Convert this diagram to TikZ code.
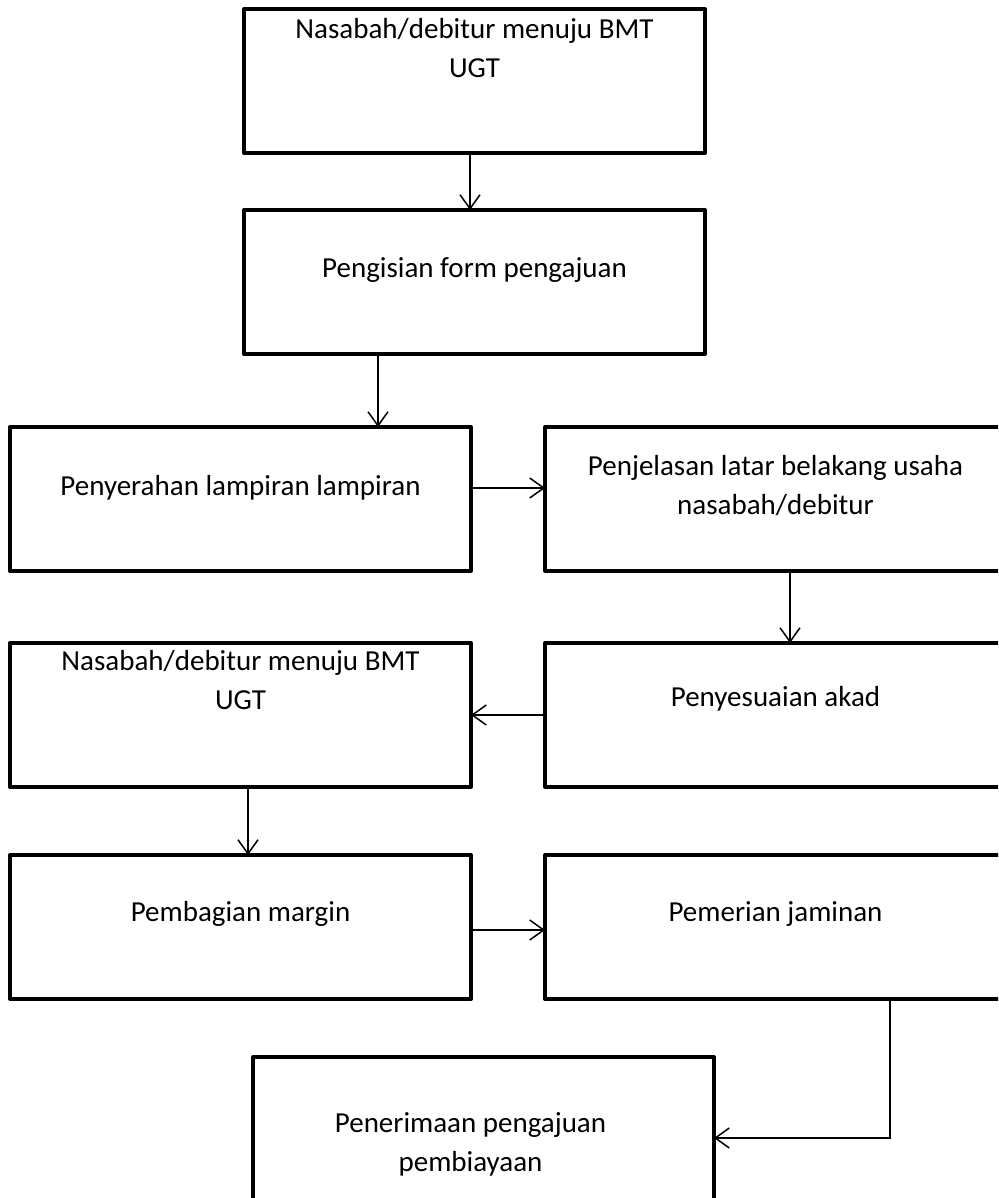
\documentclass[tikz,border=0pt]{standalone}
\usepackage{fontspec}
\setmainfont{Carlito}
\usetikzlibrary{arrows.meta}
\usetikzlibrary{calc,positioning}

\begin{document}
\begin{tikzpicture}[
        x=1pt, y=-1pt,
        stepbox/.style={rectangle, draw=black, line width=4pt, line join=round, minimum width=461pt, minimum height=144pt, inner sep=0pt, outer sep=0pt, anchor=north west},
        caption/.style={align=center, inner sep=0pt, font=\fontsize{29pt}{39pt}\selectfont},
        flow/.style={-{Straight Barb[length=14pt,width=20pt,line width=1.5pt]}, line width=1.5pt}
      ]
        \useasboundingbox (0,0) rectangle (998,1198);
        \clip (0,0) rectangle (998,1198);

        \node (visit1) [stepbox] at (244,9) {};
        \node (form) [stepbox] at (244,210) {};
        \node (attach) [stepbox] at (10,427) {};
        \node (explain) [stepbox] at (545,427) {};
        \node (visit2) [stepbox] at (10,643) {};
        \node (akad) [stepbox] at (545,643) {};
        \node (margin) [stepbox] at (10,855) {};
        \node (jaminan) [stepbox] at (545,855) {};
        \node (accept) [stepbox] at (253,1057) {};

        \node (visit1txt) [caption] at ([yshift=-39pt]visit1.north) {Nasabah/debitur menuju BMT\\UGT};
        \node (formtxt) [caption] at ([yshift=-60pt]form.north) {Pengisian form pengajuan};
        \node (attachtxt) [caption] at ([yshift=-61pt]attach.north) {Penyerahan lampiran lampiran};
        \node (explaintxt) [caption] at ([yshift=-59pt]explain.north) {Penjelasan latar belakang usaha\\nasabah/debitur};
        \node (visit2txt) [caption] at ([yshift=-37pt]visit2.north) {Nasabah/debitur menuju BMT\\UGT};
        \node (akadtxt) [caption] at ([yshift=-56pt]akad.north) {Penyesuaian akad};
        \node (margintxt) [caption] at ([yshift=-59pt]margin.north) {Pembagian margin};
        \node (jaminantxt) [caption] at ([yshift=-59pt]jaminan.north) {Pemerian jaminan};
        \node (accepttxt) [caption] at ([xshift=-13pt,yshift=-87pt]accept.north) {Penerimaan pengajuan\\pembiayaan};

        \draw[flow] ([xshift=-4.5pt]visit1.south) -- ([xshift=-4.5pt]visit1.south |- form.north);
        \draw[flow] ([xshift=-96.5pt]form.south) -- ([xshift=-96.5pt]form.south |- attach.north);
        \draw[flow] ([yshift=11pt]attach.east) -- ([yshift=11pt]explain.west);
        \draw[flow] ([xshift=14.5pt]explain.south) -- ([xshift=14.5pt]explain.south |- akad.north);
        \draw[flow] (akad.west) -- (visit2.east);
        \draw[flow] ([xshift=7.5pt]visit2.south) -- ([xshift=7.5pt]visit2.south |- margin.north);
        \draw[flow] ([yshift=-3pt]margin.east) -- ([yshift=-3pt]jaminan.west);
        \draw[flow] ([xshift=114.5pt]jaminan.south) |- ([yshift=-9pt]accept.east);
\end{tikzpicture}
\end{document}
